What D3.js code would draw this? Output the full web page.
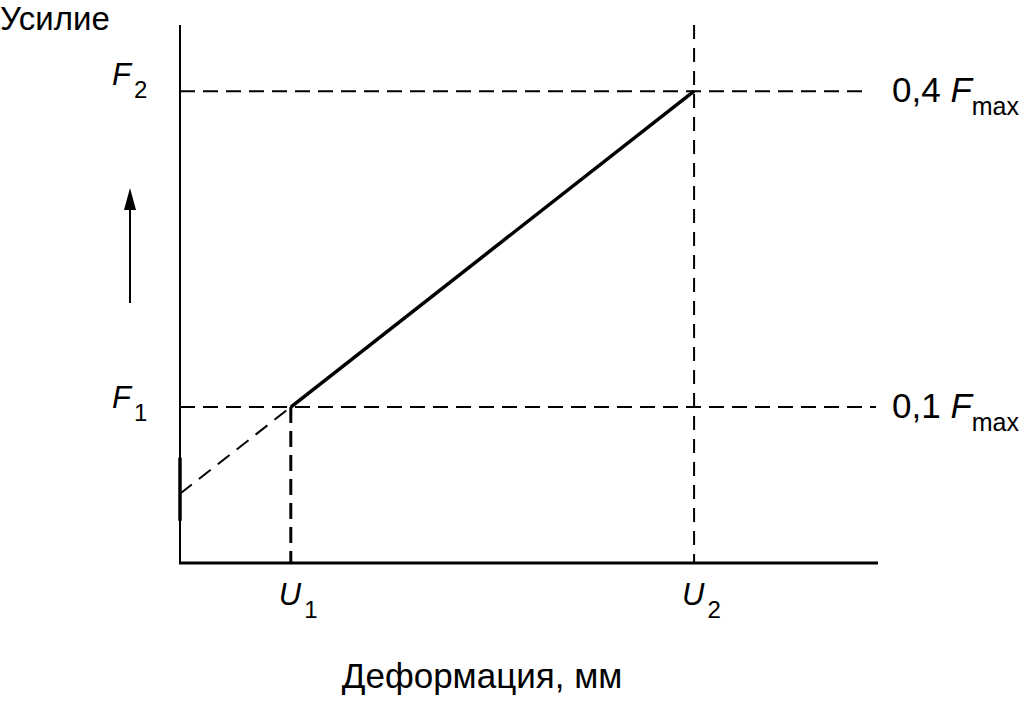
<!DOCTYPE html>
<html>
<head>
<meta charset="utf-8">
<script src="https://cdn.jsdelivr.net/npm/d3@7"></script>
<style>
  body { margin: 0; background: #fff; }
  svg text { font-family: "Liberation Sans", Arial, sans-serif; fill: #000; }
</style>
</head>
<body>
<svg id="chart" width="1024" height="702"></svg>
<script>
// deformation, mm (U1, U2) and force as a share of Fmax (F1, F2)
var uValues = [1.0, 4.64];
var uLabels = ["1", "2"];
var fValues = [0.1, 0.4];
var fLabels = ["1", "2"];
var fShares = ["0,1", "0,4"];
// short thick piece drawn on the force axis
var axisMark = [0.052, -0.008];

var svg = d3.select("#chart");

var x = d3.scaleLinear().domain([0, 6.3]).range([180, 878]);
var y = d3.scaleLinear().domain([-0.0481, 0.4628]).range([563, 25]);

// axes
svg.append("line")
    .attr("x1", x(0)).attr("x2", x(0))
    .attr("y1", y.range()[1]).attr("y2", y.range()[0])
    .attr("stroke", "#000").attr("stroke-width", 2);
svg.append("line")
    .attr("x1", x(0) - 1).attr("x2", x.range()[1])
    .attr("y1", y.range()[0]).attr("y2", y.range()[0])
    .attr("stroke", "#000").attr("stroke-width", 3);
svg.append("line")
    .attr("x1", x(0)).attr("x2", x(0))
    .attr("y1", y(axisMark[0])).attr("y2", y(axisMark[1]))
    .attr("stroke", "#000").attr("stroke-width", 3.5);

// horizontal dashed guides at F1, F2
svg.selectAll(".hguide")
    .data(fValues)
    .enter()
    .append("line")
    .attr("class", "hguide")
    .attr("x1", x(0)).attr("x2", (d, i) => i == 0 ? 876 : 870)
    .attr("y1", d => y(d)).attr("y2", d => y(d))
    .attr("stroke", "#000").attr("stroke-width", 2)
    .attr("stroke-dasharray", "15,8");

// vertical dashed guides at U1, U2
svg.append("line")
    .attr("x1", x(uValues[0])).attr("x2", x(uValues[0]))
    .attr("y1", y(fValues[0])).attr("y2", y.range()[0])
    .attr("stroke", "#000").attr("stroke-width", 3)
    .attr("stroke-dasharray", "16,8");
svg.append("line")
    .attr("x1", x(uValues[1])).attr("x2", x(uValues[1]))
    .attr("y1", y.range()[1]).attr("y2", y.range()[0])
    .attr("stroke", "#000").attr("stroke-width", 2)
    .attr("stroke-dasharray", "14,9");

// extrapolated part back to the force axis
var slope = (fValues[1] - fValues[0]) / (uValues[1] - uValues[0]);
var f0 = fValues[0] - slope * uValues[0];
svg.append("line")
    .attr("x1", x(0)).attr("y1", y(f0))
    .attr("x2", x(uValues[0])).attr("y2", y(fValues[0]))
    .attr("stroke", "#000").attr("stroke-width", 2)
    .attr("stroke-dasharray", "15,9");

// loading line
svg.append("line")
    .attr("x1", x(uValues[0])).attr("y1", y(fValues[0]))
    .attr("x2", x(uValues[1])).attr("y2", y(fValues[1]))
    .attr("stroke", "#000").attr("stroke-width", 3.5);

// arrow
svg.append("line")
    .attr("x1", 130).attr("x2", 130)
    .attr("y1", 303).attr("y2", 205)
    .attr("stroke", "#000").attr("stroke-width", 2);
svg.append("path")
    .attr("d", "M130,188 L124,210 L136,210 Z")
    .attr("fill", "#000");

// labels
svg.append("text")
    .attr("x", 0).attr("y", 30)
    .attr("font-size", 33)
    .text("Усилие");

function symbol(tx, ty, letter, sub, size, subSize, dy) {
    var t = svg.append("text")
        .attr("x", tx).attr("y", ty)
        .attr("font-size", size);
    t.append("tspan").attr("font-style", "italic").text(letter);
    t.append("tspan").attr("font-size", subSize).attr("dx", 3).attr("dy", dy).text(sub);
    return t;
}

fValues.forEach(function(d, i) {
    symbol(112, y(d) + (i == 0 ? 1 : -6), "F", fLabels[i], 31, 24, 13);
    var t = svg.append("text")
        .attr("x", 892).attr("y", y(d) + 11)
        .attr("font-size", 35);
    t.append("tspan").text(fShares[i] + " ");
    t.append("tspan").attr("font-style", "italic").text("F");
    t.append("tspan").attr("font-size", 25).attr("dy", 13).text("max");
});

uValues.forEach(function(d, i) {
    symbol(x(d) - 12, 605, "U", uLabels[i], 31, 24, 13);
});

svg.append("text")
    .attr("x", 482).attr("y", 688)
    .attr("text-anchor", "middle")
    .attr("font-size", 35)
    .text("Деформация, мм");
</script>
</body>
</html>
